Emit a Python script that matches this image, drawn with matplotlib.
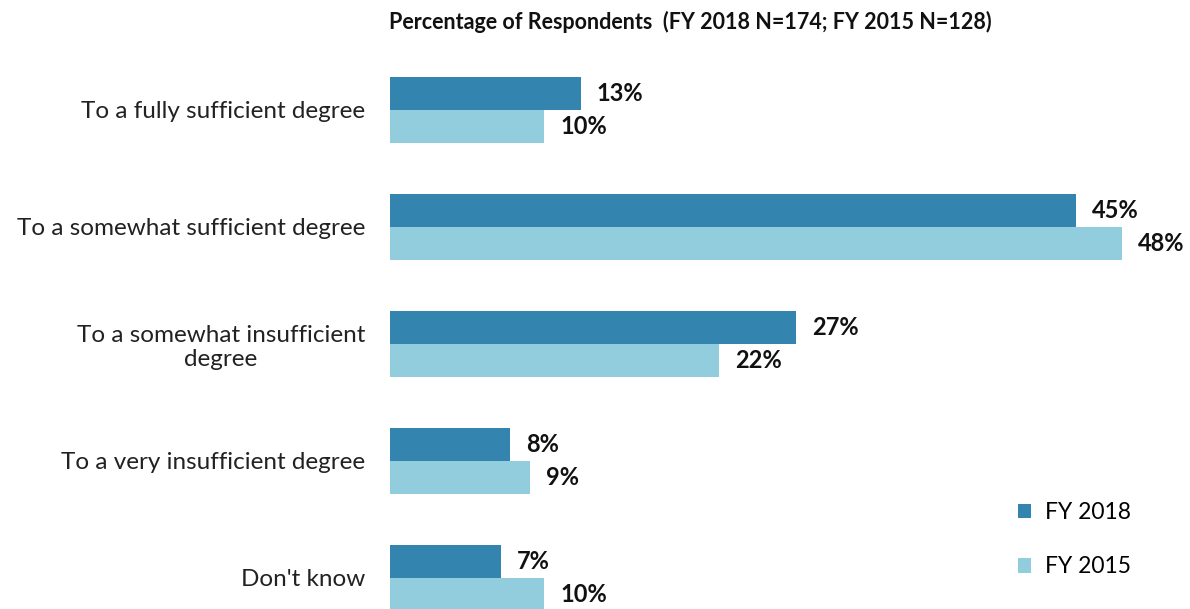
import numpy as np
import matplotlib.pyplot as plt

plt.rcParams['font.family'] = ['Lato', 'DejaVu Sans']

categories = ['To a fully sufficient degree', 'To a somewhat sufficient degree',
              'To a somewhat insufficient\ndegree', 'To a very insufficient degree',
              "Don't know"]
fy2018 = [12.5, 45.0, 26.6, 7.9, 7.3]
fy2015 = [10.1, 48.0, 21.6, 9.2, 10.1]
labels_2018 = ['13%', '45%', '27%', '8%', '7%']
labels_2015 = ['10%', '48%', '22%', '9%', '10%']

c2018 = '#3385B0'
c2015 = '#92CDDD'

fig = plt.figure(figsize=(11.9, 6.09), dpi=100)
# axes placement in figure pixels
W, H = 1190, 609
left, right, top, bottom = 390, 1152.5, 55, 609
ax = fig.add_axes([left / W, 1 - bottom / H, (right - left) / W, (bottom - top) / H])

y = np.arange(len(categories))
h = 0.286
ax.barh(y - h / 2, fy2018, height=h, color=c2018, label='FY 2018')
ax.barh(y + h / 2, fy2015, height=h, color=c2015, label='FY 2015')

for i in range(len(categories)):
    ax.annotate(labels_2018[i], (fy2018[i], y[i] - h / 2), xytext=(16, 0),
                textcoords='offset pixels', va='center', ha='left',
                fontsize=17, fontweight='bold', color='#111111')
    ax.annotate(labels_2015[i], (fy2015[i], y[i] + h / 2), xytext=(16, 0),
                textcoords='offset pixels', va='center', ha='left',
                fontsize=17, fontweight='bold', color='#111111')

ax.set_xlim(0, 50)
ax.set_ylim(4.265, -0.47)
ax.set_yticks(y)
ax.set_yticklabels(categories, fontsize=17.5, color='#222222', multialignment='center')
ax.tick_params(axis='y', length=0, pad=18)
ax.set_xticks([])
for s in ax.spines.values():
    s.set_visible(False)

fig.text(690 / W, 1 - 22 / H, 'Percentage of Respondents  (FY 2018 N=174; FY 2015 N=128)',
         ha='center', va='center', fontsize=15.5, fontweight='bold', color='#111111')

ax.legend(loc='lower left', bbox_to_anchor=(997 / W, 1 - 598 / H),
          bbox_transform=fig.transFigure, frameon=False, fontsize=16.5,
          handlelength=0.6, handleheight=0.6, handletextpad=0.6, labelspacing=1.45)

fig.savefig('out.png', dpi=100)
